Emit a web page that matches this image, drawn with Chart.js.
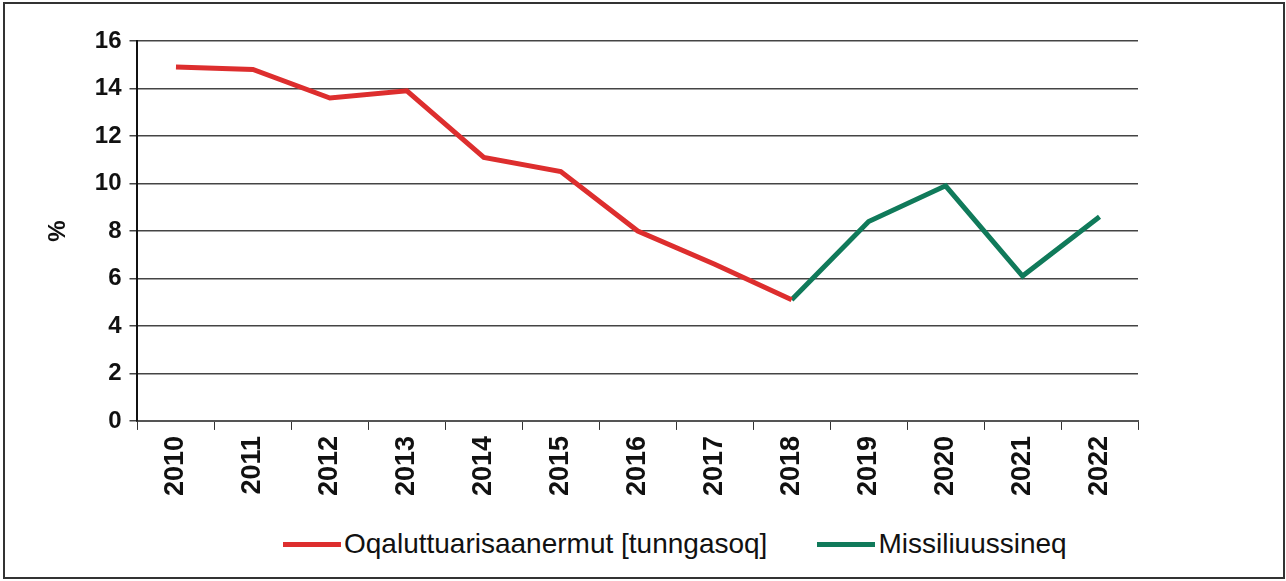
<!DOCTYPE html>
<html>
<head>
<meta charset="utf-8">
<script src="https://cdn.jsdelivr.net/npm/chart.js@4/dist/chart.umd.min.js"></script>
<style>
  html, body { margin: 0; padding: 0; background: #fff; }
  #frame {
    position: absolute; left: 3px; top: 2px;
    width: 1278px; height: 573px;
    border: 2px solid #333;
    background: #fff;
  }
  canvas { display: block; }
  #legend {
    position: absolute; left: 278px; top: 524px;
    display: flex; align-items: center;
    font-family: "Liberation Sans", sans-serif; font-size: 28px; color: #111;
    white-space: nowrap;
  }
  #legend .item { display: flex; align-items: center; margin-right: 50px; }
  #legend .swatch { width: 58px; height: 5px; margin-right: 3px; }
</style>
</head>
<body>
<div id="frame">
  <canvas id="lineChart" width="1278" height="506"></canvas>
  <div id="legend"></div>
</div>
<script>
const years = ["2010", "2011", "2012", "2013", "2014", "2015", "2016", "2017", "2018", "2019", "2020", "2021", "2022"];
const historicValues = [14.9, 14.8, 13.6, 13.9, 11.1, 10.5, 8.0, 6.6, 5.1, null, null, null, null];
const forecastValues = [null, null, null, null, null, null, null, null, 5.1, 8.4, 9.9, 6.1, 8.6];
const yTicks = [0, 2, 4, 6, 8, 10, 12, 14, 16];

const ctx = document.getElementById("lineChart").getContext("2d");

const chart = new Chart(ctx, {
    type: "line",
    data: {
        labels: years,
        datasets: [{
            label: "Oqaluttuarisaanermut [tunngasoq]",
            data: historicValues,
            borderColor: "#dd2e2e",
            backgroundColor: "#dd2e2e",
            borderWidth: 5,
            pointRadius: 0,
            tension: 0
        }, {
            label: "Missiliuussineq",
            data: forecastValues,
            borderColor: "#107a5a",
            backgroundColor: "#107a5a",
            borderWidth: 5,
            pointRadius: 0,
            tension: 0
        }]
    },
    options: {
        responsive: false,
        animation: false,
        layout: {
            padding: { left: 35, right: 145, top: 37, bottom: 8 }
        },
        scales: {
            x: {
                offset: true,
                grid: {
                    offset: true,
                    drawOnChartArea: false,
                    drawTicks: true,
                    tickLength: 9,
                    color: "#333"
                },
                border: { color: "#555", width: 2 },
                ticks: {
                    autoSkip: false,
                    minRotation: 90,
                    maxRotation: 90,
                    color: "#111",
                    font: { family: "Liberation Sans", size: 27, weight: "bold" },
                    padding: 6
                }
            },
            y: {
                min: 0,
                max: 16,
                afterBuildTicks: axis => {
                    axis.ticks = yTicks.map(v => ({ value: v }));
                },
                grid: {
                    color: "#444",
                    lineWidth: 1.5,
                    tickLength: 8
                },
                border: { color: "#111", width: 2 },
                ticks: {
                    color: "#111",
                    font: { family: "Liberation Sans", size: 24, weight: "bold" },
                    padding: 8
                },
                title: {
                    display: true,
                    text: "%",
                    color: "#111",
                    font: { family: "Liberation Sans", size: 24, weight: "bold" },
                    padding: { bottom: 14 }
                }
            }
        },
        plugins: {
            legend: { display: false },
            tooltip: { enabled: false }
        }
    }
});

// legend in html, built from the chart's own legend items
const legendBox = document.getElementById("legend");
Chart.defaults.plugins.legend.labels.generateLabels(chart).forEach(item => {
    const el = document.createElement("div");
    el.className = "item";
    const sw = document.createElement("span");
    sw.className = "swatch";
    sw.style.background = item.strokeStyle;
    const txt = document.createElement("span");
    txt.textContent = item.text;
    el.appendChild(sw);
    el.appendChild(txt);
    legendBox.appendChild(el);
});
</script>
</body>
</html>
